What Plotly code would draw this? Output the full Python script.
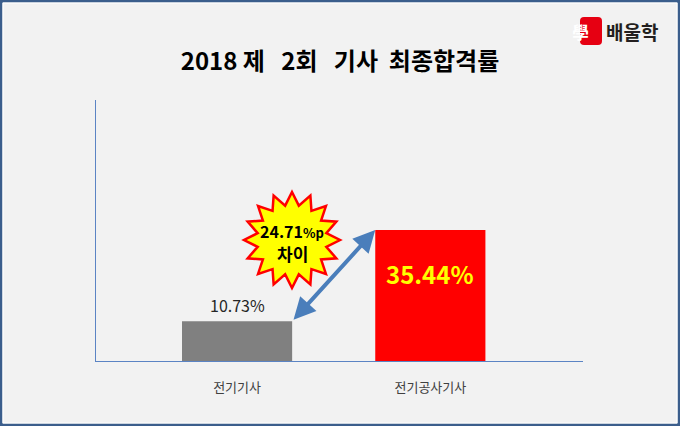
import math
import plotly.graph_objects as go

categories = ["전기기사", "전기공사기사"]
values = [10.73, 35.44]
value_labels = ["10.73%", "35.44%"]
bar_colors = ["#808080", "#ff0000"]
diff_label = "24.71"

W, H = 680, 426
L, R, T, B = 96, 97, 100, 65
PW, PH = W - L - R, H - T - B
FONT = "Noto Sans CJK KR"

def px(x):
    return (x - L) / PW

def py(y):
    return (H - B - y) / PH

bar_w = 0.57
fig = go.Figure()
fig.add_trace(go.Bar(
    x=[0, 1], y=values, width=bar_w,
    marker=dict(color=bar_colors, line=dict(width=0)),
    hoverinfo="skip",
))

shapes = []
# outer border
shapes.append(dict(type="rect", xref="paper", yref="paper",
                   x0=px(1.2), x1=px(W - 1.2), y0=py(1.2), y1=py(H - 1.2),
                   line=dict(color="#3b5e8c", width=2.5), layer="above"))
shapes.append(dict(type="rect", xref="paper", yref="paper",
                   x0=px(3), x1=px(W - 3), y0=py(3), y1=py(H - 3),
                   line=dict(color="#ffffff", width=1), layer="above"))

# starburst
cx, cy, Ro, Ri, n = 292, 240, 48, 35, 16
pts = []
for i in range(2 * n):
    ang = -math.pi / 2 + i * math.pi / n
    rr = Ro if i % 2 == 0 else Ri
    pts.append((px(cx + rr * math.cos(ang)), py(cy + rr * math.sin(ang))))
path = "M " + " L ".join(f"{a:.5f},{b:.5f}" for a, b in pts) + " Z"
shapes.append(dict(type="path", xref="paper", yref="paper", path=path,
                   fillcolor="#ffff00", line=dict(color="#ff0000", width=2.5), layer="above"))

# logo red box
bx0, bx1, by0, by1, rad = 580, 602, 17, 45, 4
lp = (f"M {px(bx0+rad)},{py(by0)} L {px(bx1-rad)},{py(by0)} Q {px(bx1)},{py(by0)} {px(bx1)},{py(by0+rad)} "
      f"L {px(bx1)},{py(by1-rad)} Q {px(bx1)},{py(by1)} {px(bx1-rad)},{py(by1)} "
      f"L {px(bx0+rad)},{py(by1)} Q {px(bx0)},{py(by1)} {px(bx0)},{py(by1-rad)} "
      f"L {px(bx0)},{py(by0+rad)} Q {px(bx0)},{py(by0)} {px(bx0+rad)},{py(by0)} Z")
shapes.append(dict(type="path", xref="paper", yref="paper", path=lp,
                   fillcolor="#e60012", line=dict(width=0), layer="above"))

annotations = [
    dict(x=0, y=values[0], xref="x", yref="y", text=value_labels[0], showarrow=False,
         yanchor="bottom", yshift=2, font=dict(family=FONT, size=16, color="#262626")),
    dict(x=1, y=values[1], xref="x", yref="y", text=f"<b>{value_labels[1]}</b>", showarrow=False,
         yanchor="top", yshift=-24, font=dict(family=FONT, size=24, color="#ffff00")),
    # double arrow
    dict(x=1 - bar_w / 2, y=values[1], xref="x", yref="y",
         ax=0 + bar_w / 2, ay=values[0], axref="x", ayref="y",
         text="", showarrow=True, arrowside="end+start",
         arrowhead=2, startarrowhead=2, arrowsize=1.1, startarrowsize=1.1,
         arrowwidth=4, arrowcolor="#4a7ebb", standoff=0, startstandoff=0),
    dict(x=px(cx), y=py(231), xref="paper", yref="paper", yanchor="middle",
         text=f"<b>{diff_label}<span style='font-size:13px'>%p</span></b>", showarrow=False,
         font=dict(family=FONT, size=16, color="#000000")),
    dict(x=px(cx), y=py(253), xref="paper", yref="paper", yanchor="middle",
         text="<b>차이</b>", showarrow=False,
         font=dict(family=FONT, size=17, color="#000000")),
    dict(x=px(591), y=py(31), xref="paper", yref="paper", yanchor="middle",
         text="<b>學</b>", showarrow=False,
         font=dict(family=FONT, size=17, color="#ffffff")),
    dict(x=px(604), y=py(31), xref="paper", yref="paper", xanchor="left", yanchor="middle",
         text="<b>배울학</b>", showarrow=False,
         font=dict(family=FONT, size=19, color="#231f20")),
]

fig.update_layout(
    width=W, height=H,
    margin=dict(l=L, r=R, t=T, b=B, pad=0),
    paper_bgcolor="#f2f2f2", plot_bgcolor="#f2f2f2",
    showlegend=False,
    title=dict(text="<b>2018 제&nbsp;&nbsp; 2회&nbsp;&nbsp; 기사&nbsp; 최종합격률</b>", x=0.5, xref="container",
               y=1 - 62 / H, yref="container", xanchor="center", yanchor="middle",
               font=dict(family=FONT, size=24, color="#000000")),
    xaxis=dict(range=[-0.73, 1.79], tickvals=[0, 1], ticktext=categories,
               showline=True, linecolor="#5b84c4", linewidth=1,
               ticks="outside", ticklen=14, tickcolor="rgba(0,0,0,0)",
               showgrid=False, zeroline=False, fixedrange=True,
               tickfont=dict(family=FONT, size=13, color="#404040")),
    yaxis=dict(range=[0, 70.6], showline=True, linecolor="#5b84c4", linewidth=1,
               showticklabels=False, ticks="", showgrid=False, zeroline=False, fixedrange=True),
    shapes=shapes,
    annotations=annotations,
)

fig.write_html("out.html", config={"displayModeBar": False},
               post_script="document.body.style.margin='0';document.body.style.padding='0';")
